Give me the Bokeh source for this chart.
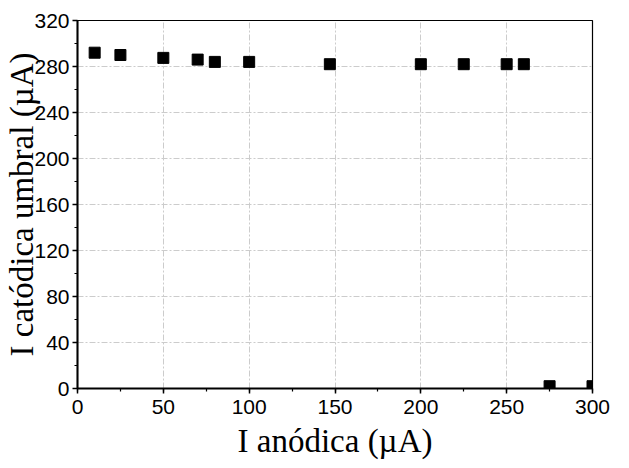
from bokeh.plotting import figure
from bokeh.models import Range1d, SingleIntervalTicker, ColumnDataSource
from bokeh.embed import file_html
from bokeh.resources import INLINE

# data
i_anodica = [10, 25, 50, 70, 80, 100, 147, 200, 225, 250, 260, 275, 300]
i_catodica = [292, 290, 287.5, 286, 284, 284, 282, 282, 282, 282, 282, 2, 2]

x_label = "I anódica (µA)"
y_label = "I catódica umbral (µA)"

p = figure(width=629, height=468, output_backend="svg", toolbar_location=None,
           x_range=Range1d(0, 300), y_range=Range1d(0, 320),
           min_border_left=77, min_border_right=37, min_border_top=20, min_border_bottom=80)

p.background_fill_color = "white"
p.border_fill_color = "white"
p.outline_line_color = "black"
p.outline_line_width = 1.2
p.outline_line_alpha = 1

src = ColumnDataSource(dict(x=i_anodica, y=i_catodica))
p.scatter("x", "y", source=src, marker="square", size=11, color="black")

p.xaxis.ticker = SingleIntervalTicker(interval=50, num_minor_ticks=2)
p.yaxis.ticker = SingleIntervalTicker(interval=40, num_minor_ticks=2)

for ax in (p.xaxis, p.yaxis):
    ax.axis_line_width = 2
    ax.axis_line_color = "black"
    ax.major_tick_in = 0
    ax.major_tick_out = 5
    ax.minor_tick_in = 0
    ax.minor_tick_out = 3
    ax.major_tick_line_width = 1.5
    ax.minor_tick_line_width = 1.2
    ax.major_label_text_font = "Liberation Sans"
    ax.major_label_text_font_size = "21px"
    ax.major_label_text_color = "black"
    ax.axis_label_text_font = "Liberation Serif"
    ax.axis_label_text_font_size = "33px"
    ax.axis_label_text_font_style = "normal"
    ax.axis_label_text_color = "black"

p.xaxis.major_label_standoff = 6
p.yaxis.major_label_standoff = 3

p.xaxis.axis_label = x_label
p.xaxis.axis_label_standoff = 6

p.yaxis.axis_label = y_label
p.yaxis.axis_label_standoff = -9

for g in (p.xgrid, p.ygrid):
    g.grid_line_color = "#cccccc"
    g.grid_line_width = 1
    g.grid_line_dash = "6 2 2 2"

open("out.html", "w").write(file_html(p, INLINE))
